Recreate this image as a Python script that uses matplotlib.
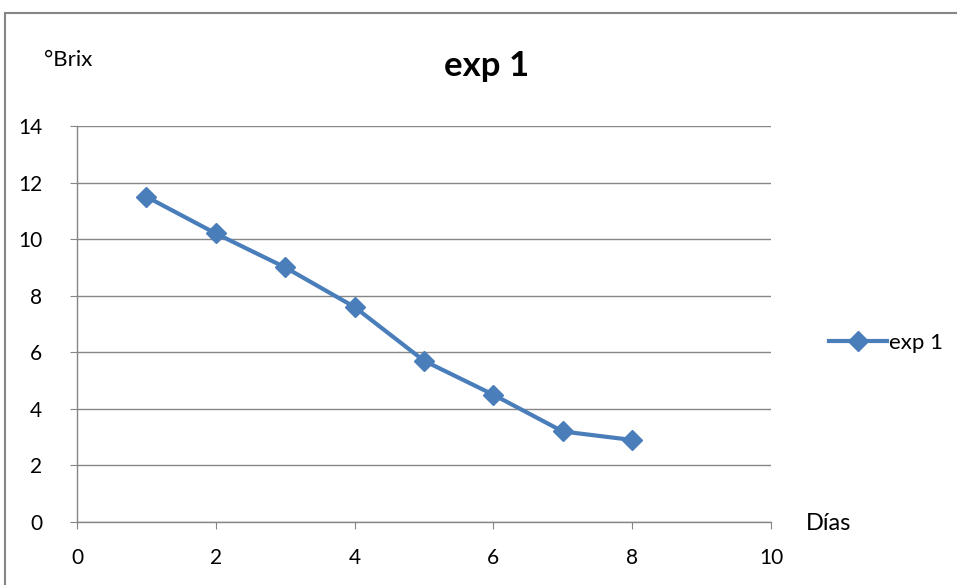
import matplotlib
matplotlib.use("Agg")
import matplotlib.pyplot as plt
from matplotlib.patches import Rectangle

plt.rcParams['font.family'] = ['Lato', 'DejaVu Sans']

dias = [1, 2, 3, 4, 5, 6, 7, 8]
brix = [11.5, 10.2, 9.0, 7.6, 5.7, 4.5, 3.2, 2.9]
series_name = "exp 1"
xticks = [0, 2, 4, 6, 8, 10]
yticks = [0, 2, 4, 6, 8, 10, 12, 14]

W, H = 957, 585
fig = plt.figure(figsize=(W / 100, H / 100), dpi=100)
fig.patches.append(Rectangle((5 / W, -0.1), 1.2, 1.1 - 13 / H, transform=fig.transFigure,
                             fill=False, edgecolor='#868686', linewidth=1.5))

ax = fig.add_axes([77 / W, 1 - 522 / H, (771 - 77) / W, (522 - 126) / H])
color = '#4A7EBB'
ax.plot(dias, brix, color=color, linewidth=3, marker='D', markersize=10,
        markerfacecolor=color, markeredgecolor=color, label=series_name)
ax.set_xlim(0, 10)
ax.set_ylim(0, 14)
ax.set_xticks(xticks)
ax.set_yticks(yticks)
ax.yaxis.grid(True, color='#868686', linewidth=1)
ax.set_axisbelow(True)
for s in ['top', 'right']:
    ax.spines[s].set_visible(False)
for s in ['left', 'bottom']:
    ax.spines[s].set_color('#868686')
    ax.spines[s].set_linewidth(1)
ax.tick_params(axis='both', direction='out', length=5, color='#868686', labelsize=15)
ax.tick_params(axis='x', pad=14)
ax.tick_params(axis='y', pad=20)

fig.text(487 / W, 1 - 66 / H, "exp 1", ha='center', va='center', fontsize=25, fontweight='bold')
fig.text(44 / W, 1 - 60 / H, "°Brix", ha='left', va='center', fontsize=16)
fig.text(806 / W, 1 - 523 / H, "Días", ha='left', va='center', fontsize=17)

leg = ax.legend(loc='center left', bbox_to_anchor=(818 / W, 1 - 343 / H),
                bbox_transform=fig.transFigure, frameon=False, fontsize=16,
                handlelength=2.6, handletextpad=0.1, borderpad=0)

fig.savefig("out.png", dpi=100)
